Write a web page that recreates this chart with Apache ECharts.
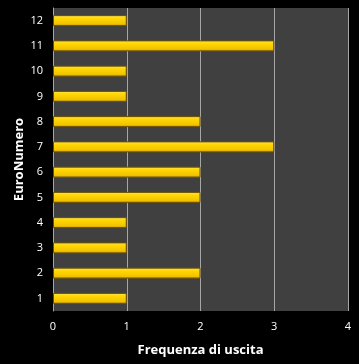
<!DOCTYPE html>
<html><head><meta charset="utf-8">
<script src="https://cdn.jsdelivr.net/npm/echarts@6/dist/echarts.min.js"></script>
<style>html,body{margin:0;padding:0;background:#000;}#c{width:359px;height:364px;}</style>
</head><body><div id="c"></div>
<script>
var categories = ['1','2','3','4','5','6','7','8','9','10','11','12'];
var values = [1,2,1,1,2,2,3,2,1,1,3,1];
var xTicks = [0,1,2,3,4];

var chart = echarts.init(document.getElementById('c'));
chart.setOption({
  backgroundColor: '#000',
  animation: false,
  grid: {left: 53, right: 11, top: 8, bottom: 53, show: true, backgroundColor: '#404040', borderWidth: 0},
  xAxis: {
    type: 'value', min: xTicks[0], max: xTicks[xTicks.length-1], interval: 1,
    name: 'Frequenza di uscita', nameLocation: 'middle', nameGap: 33, nameMoveOverlap: false,
    nameTextStyle: {color: '#fff', fontSize: 13, fontWeight: 'bold', fontFamily: 'Open Sans'},
    axisLine: {show: false}, axisTick: {show: false},
    axisLabel: {color: '#fff', fontSize: 11, fontFamily: 'Open Sans', margin: 10},
    splitLine: {show: true, lineStyle: {color: '#a6a6a6', width: 1}}
  },
  yAxis: {
    type: 'category', data: categories,
    name: 'EuroNumero', nameLocation: 'middle', nameGap: 27, nameRotate: 90, nameMoveOverlap: false,
    nameTextStyle: {color: '#fff', fontSize: 13, fontWeight: 'bold', fontFamily: 'Open Sans'},
    axisLine: {show: true, lineStyle: {color: '#a6a6a6'}}, axisTick: {show: false},
    axisLabel: {color: '#fff', fontSize: 11, fontFamily: 'Open Sans', margin: 10},
    splitLine: {show: false}
  },
  series: [{
    type: 'bar', data: values, barWidth: 11,
    itemStyle: {
      color: new echarts.graphic.LinearGradient(0,0,0,1,[
        {offset:0, color:'#ffe35a'},{offset:0.3, color:'#ffd700'},{offset:0.8, color:'#f2c200'},{offset:1, color:'#b08a00'}
      ]),
      borderColor: '#6b5200', borderWidth: 1
    }
  }]
});
</script></body></html>
